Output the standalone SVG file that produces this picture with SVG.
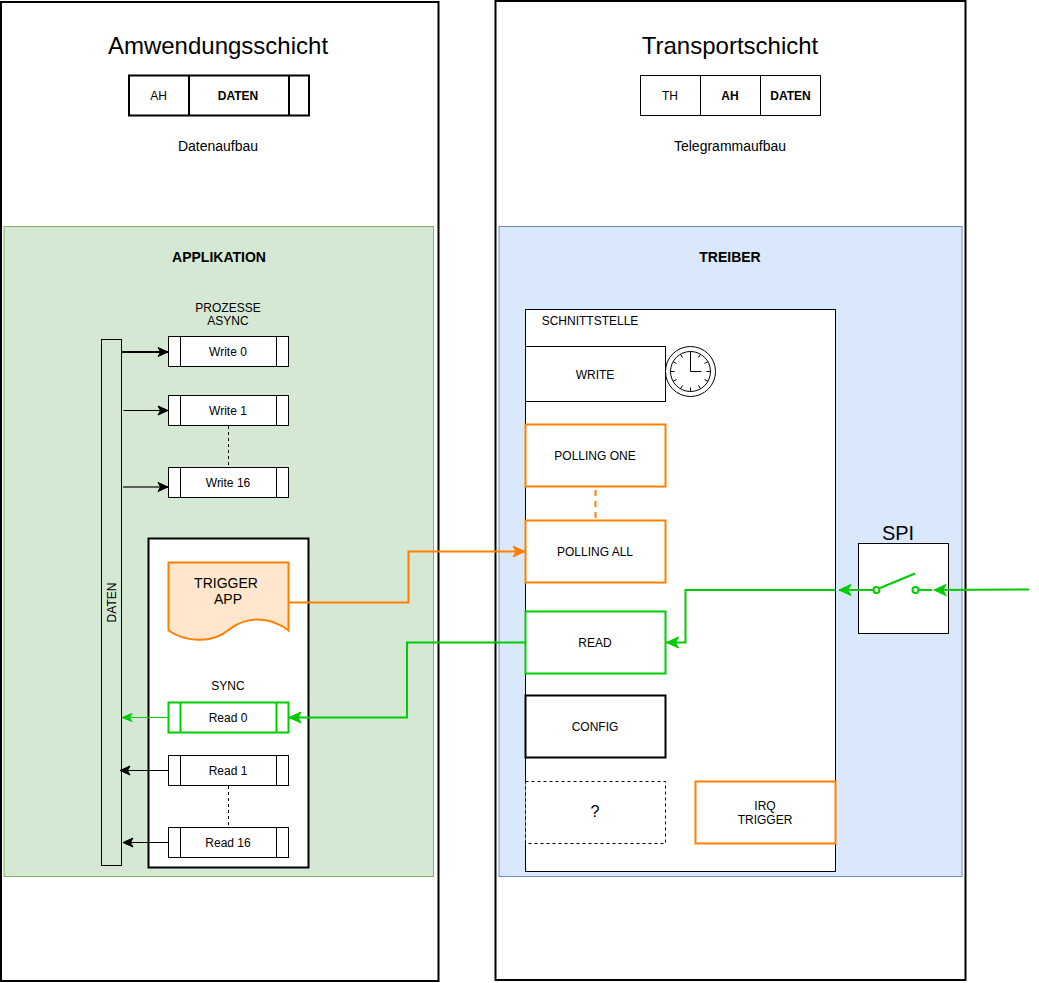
<svg xmlns="http://www.w3.org/2000/svg" width="1039" height="983" viewBox="0 0 1039 983">
<style>
text{font-family:"Liberation Sans",Arial,sans-serif;font-size:12px;text-anchor:middle;fill:#000}
.b{font-weight:bold}
.t{font-size:24px}
.m{font-size:14px}
rect,path,circle{fill:none;stroke:#000}
.w{fill:#fff}
.s2{stroke-width:2}
.o{stroke:#ff8000;stroke-width:2}
.g{stroke:#00cc00;stroke-width:2}
</style>
<defs>
<marker id="ak" markerUnits="userSpaceOnUse" markerWidth="12" markerHeight="12" refX="11" refY="6" orient="auto"><path d="M1 1.5L11 6L1 10.500L3.500 6Z" style="fill:#000;stroke:#000;stroke-width:1"/></marker>
<marker id="ag" markerUnits="userSpaceOnUse" markerWidth="14" markerHeight="14" refX="13" refY="7" orient="auto"><path d="M1 1.500L13 7L1 12.500L4 7Z" style="fill:#00cc00;stroke:#00cc00;stroke-width:1"/></marker>
<marker id="ags" markerUnits="userSpaceOnUse" markerWidth="12" markerHeight="12" refX="11" refY="6" orient="auto"><path d="M1 2L11 6L1 10L3.500 6Z" style="fill:#00cc00;stroke:#00cc00;stroke-width:1"/></marker>
<marker id="ao" markerUnits="userSpaceOnUse" markerWidth="14" markerHeight="14" refX="13" refY="7" orient="auto"><path d="M1 1.500L13 7L1 12.500L4 7Z" style="fill:#ff8000;stroke:#ff8000;stroke-width:1"/></marker>
</defs>

<g id="amwendungsschicht">
<rect x="1" y="2" width="437.500" height="979" class="s2" style="fill:#fff"/>
<text x="218" y="54" class="t">Amwendungsschicht</text>
<rect x="129" y="75.500" width="180" height="40" class="s2 w"/>
<path d="M189 75.500V115.500M289 75.500V115.500" class="s2"/>
<text x="158.500" y="100">AH</text>
<text x="238" y="100" class="b">DATEN</text>
<text x="218" y="151" class="m">Datenaufbau</text>
</g>
<g id="transportschicht">
<rect x="495.500" y="1" width="470" height="979" class="s2" style="fill:#fff"/>
<text x="730" y="54" class="t">Transportschicht</text>
<rect x="640.500" y="75.500" width="180" height="40" class="w"/>
<path d="M700.500 75.500V115.500M760.500 75.500V115.500"/>
<text x="670" y="100">TH</text>
<text x="730" y="100" class="b">AH</text>
<text x="790.500" y="100" class="b">DATEN</text>
<text x="730" y="151" class="m">Telegrammaufbau</text>
</g>

<g id="applikation">
<rect x="4" y="226.500" width="429.500" height="650" style="fill:#d5e8d4;stroke:#82b366"/>
<text x="219" y="262" class="b m">APPLIKATION</text>
<text x="228" y="312">PROZESSE</text>
<text x="228" y="325">ASYNC</text>
</g>
<g id="treiber">
<rect x="499" y="226.500" width="463" height="650" style="fill:#dae8fc;stroke:#6c8ebf"/>
<text x="730" y="262" class="b m">TREIBER</text>
</g>

<g id="daten-bar">
<rect x="101.500" y="339.500" width="20" height="526" style="fill:#d5e8d4"/>
<text transform="translate(115.500 602.500) rotate(-90)">DATEN</text>
</g>
<g id="sync">
<rect x="148.500" y="538.500" width="160" height="329" class="s2 w"/>
<text x="228" y="690">SYNC</text>
</g>
<g id="write0"><rect x="168.500" y="336.500" width="120" height="30" class="w"/><path d="M180.500 336.500V366.500M276.500 336.500V366.500"/><text x="228" y="356">Write 0</text></g>
<g id="write1"><rect x="168.500" y="395.500" width="120" height="30" class="w"/><path d="M180.500 395.500V425.500M276.500 395.500V425.500"/><text x="228" y="415">Write 1</text></g>
<g id="write16"><rect x="168.500" y="467.500" width="120" height="30" class="w"/><path d="M180.500 467.500V497.500M276.500 467.500V497.500"/><text x="228" y="487">Write 16</text></g>
<g id="read0"><rect x="168.500" y="702.500" width="120" height="30" class="g w"/><path d="M180.500 702.500V732.500M276.500 702.500V732.500" class="g"/><text x="228" y="722">Read 0</text></g>
<g id="read1"><rect x="168.500" y="755.500" width="120" height="30" class="w"/><path d="M180.500 755.500V785.500M276.500 755.500V785.500"/><text x="228" y="775">Read 1</text></g>
<g id="read16"><rect x="168.500" y="827.500" width="120" height="30" class="w"/><path d="M180.500 827.500V857.500M276.500 827.500V857.500"/><text x="228" y="847">Read 16</text></g>
<g id="trigger-app">
<path d="M168.500 562.500H288.500V630.500C268 615 245 617 228.500 630C212 644 185 642 168.500 630.500Z" class="o" style="fill:#ffe6cc"/>
<text x="226" y="588" class="m">TRIGGER</text>
<text x="228" y="604" class="m">APP</text>
</g>

<g id="schnittstelle">
<rect x="525.500" y="309.500" width="310" height="562" class="w"/>
<text x="590" y="325">SCHNITTSTELLE</text>
</g>
<g id="write"><rect x="525.500" y="346.500" width="140" height="55" class="w"/><text x="595" y="379">WRITE</text></g>
<g id="clock">
<circle cx="690.500" cy="371.500" r="25" class="w"/><circle cx="690.500" cy="371.500" r="20"/>
<path d="M690.500 351.500V355.500M690.500 391.500V387.500M670.500 371.500H674.500M710.500 371.500H706.500M700.500 354.200L698.500 357.600M708 361.500L704.500 363.500M708 381.500L704.500 379.500M700.500 388.800L698.500 385.400M680.500 354.200L682.500 357.600M673 361.500L676.500 363.500M673 381.500L676.500 379.500M680.500 388.800L682.500 385.400"/>
<path d="M690.500 354V371.500H701.500"/>
</g>
<g id="polling-one"><rect x="525.500" y="424.500" width="140" height="62" class="o w"/><text x="595" y="460">POLLING ONE</text></g>
<g id="polling-all"><rect x="525.500" y="520.500" width="140" height="62" class="o w"/><text x="595" y="556">POLLING ALL</text></g>
<g id="read"><rect x="525.500" y="611.500" width="140" height="62" class="g w"/><text x="595" y="647">READ</text></g>
<g id="config"><rect x="525.500" y="695.500" width="140" height="62" class="s2 w"/><text x="595" y="731">CONFIG</text></g>
<g id="unknown"><rect x="525.500" y="781.500" width="140" height="62" class="w" stroke-dasharray="3 3"/><text x="595" y="817" style="font-size:16px">?</text></g>
<g id="irq-trigger"><rect x="695.500" y="781.500" width="140" height="62" class="o w"/><text x="765" y="810">IRQ</text><text x="765" y="824">TRIGGER</text></g>

<g id="spi">
<text x="898" y="540" style="font-size:20px">SPI</text>
<rect x="858.500" y="543.500" width="90" height="90" class="w"/>
<path d="M880 588L915 573.500" class="g"/>
<circle cx="876.500" cy="590" r="3" class="g"/>
<circle cx="915.500" cy="590" r="3" class="g"/>
</g>

<g id="connectors">
<path d="M121 352H168" class="s2" marker-end="url(#ak)"/>
<path d="M123.500 410.500H168"  marker-end="url(#ak)"/>
<path d="M123 487H168" style="stroke:#333;stroke-width:1.500" marker-end="url(#ak)"/>
<path d="M228.500 426V466" stroke-dasharray="3 3"/>
<path d="M228.500 786V826" stroke-dasharray="3 3"/>
<path d="M168 717.500H122" style="stroke:#00cc00" marker-end="url(#ags)"/>
<path d="M168 770.500H120" marker-end="url(#ak)"/>
<path d="M168 842.500H123" marker-end="url(#ak)"/>
<path d="M595.500 490V520" class="o" stroke-dasharray="6 5"/>
<path d="M289 602.500H408.500V551.500H525" class="o" marker-end="url(#ao)"/>
<path d="M525 642.500H407V717.500H289" class="g" marker-end="url(#ag)"/>
<path d="M835.500 590H685.500V642.500H666.500" class="g" marker-end="url(#ag)"/>
<path d="M873 590H839" class="g" marker-end="url(#ag)"/>
<path d="M919 590H932" class="g"/>
<path d="M1029 589.500L934 590" class="g" marker-end="url(#ag)"/>
</g>
</svg>
